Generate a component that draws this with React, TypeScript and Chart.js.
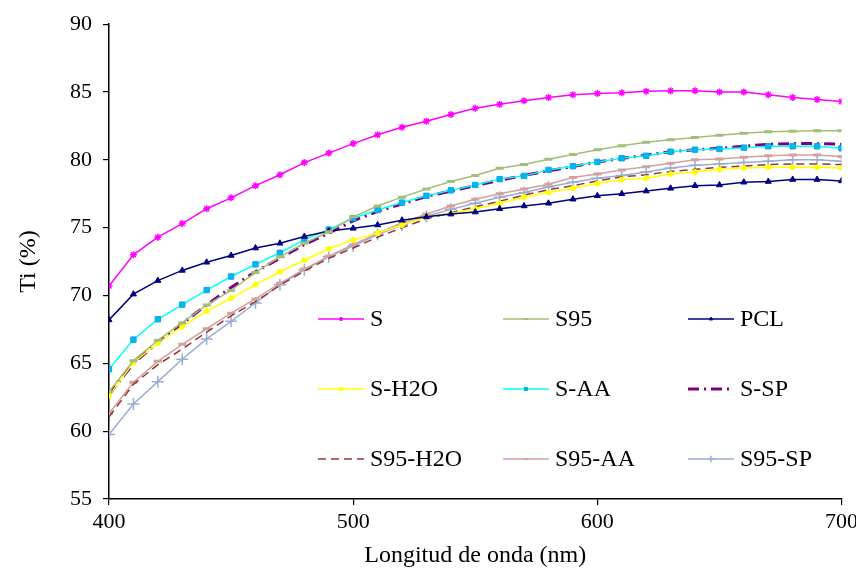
import React, { useEffect, useRef } from 'react';
import { Chart, registerables } from 'chart.js';
import { drawPoint } from 'chart.js/helpers';

Chart.register(...registerables);

const wavelengths = [400, 410, 420, 430, 440, 450, 460, 470, 480, 490, 500, 510, 520, 530, 540, 550, 560, 570, 580, 590, 600, 610, 620, 630, 640, 650, 660, 670, 680, 690, 700];

const sValues = [70.7, 73.0, 74.3, 75.3, 76.4, 77.2, 78.1, 78.9, 79.8, 80.5, 81.2, 81.85, 82.4, 82.85, 83.35, 83.8, 84.1, 84.35, 84.6, 84.8, 84.9, 84.95, 85.05, 85.1, 85.1, 85.0, 85.0, 84.8, 84.6, 84.45, 84.3];
const s95Values = [62.9, 65.2, 66.7, 68.0, 69.3, 70.37, 71.7, 72.85, 73.85, 74.7, 75.8, 76.6, 77.25, 77.85, 78.4, 78.85, 79.38, 79.65, 80.05, 80.4, 80.75, 81.04, 81.3, 81.48, 81.65, 81.82, 81.97, 82.07, 82.1, 82.14, 82.14];
const pclValues = [68.2, 70.1, 71.1, 71.85, 72.45, 72.95, 73.5, 73.85, 74.35, 74.75, 74.95, 75.2, 75.55, 75.8, 76.0, 76.15, 76.4, 76.6, 76.8, 77.1, 77.35, 77.5, 77.7, 77.9, 78.1, 78.15, 78.35, 78.4, 78.55, 78.55, 78.45];
const sH2oValues = [62.6, 65.05, 66.5, 67.7, 68.85, 69.8, 70.8, 71.75, 72.6, 73.45, 74.1, 74.6, 75.2, 75.8, 76.05, 76.4, 76.8, 77.25, 77.6, 77.9, 78.25, 78.55, 78.65, 78.95, 79.1, 79.3, 79.4, 79.45, 79.45, 79.45, 79.4];
const sAaValues = [64.57, 66.75, 68.25, 69.33, 70.4, 71.4, 72.3, 73.15, 74.1, 74.86, 75.7, 76.3, 76.85, 77.35, 77.75, 78.15, 78.58, 78.82, 79.26, 79.53, 79.85, 80.12, 80.3, 80.6, 80.75, 80.8, 80.9, 81.0, 81.0, 81.0, 80.85];
const sSpValues = [62.7, 65.0, 66.55, 67.95, 69.3, 70.6, 71.75, 72.75, 73.75, 74.6, 75.5, 76.2, 76.75, 77.3, 77.7, 78.1, 78.5, 78.85, 79.2, 79.5, 79.85, 80.1, 80.35, 80.6, 80.75, 80.85, 81.0, 81.15, 81.2, 81.2, 81.15];
const s95H2oValues = [61.05, 63.45, 64.9, 66.05, 67.3, 68.5, 69.55, 70.75, 71.8, 72.75, 73.5, 74.3, 75.0, 75.65, 76.1, 76.55, 76.95, 77.4, 77.8, 78.1, 78.45, 78.75, 78.9, 79.15, 79.3, 79.45, 79.55, 79.65, 79.7, 79.7, 79.65];
const s95AaValues = [61.3, 63.6, 65.15, 66.4, 67.55, 68.7, 69.75, 70.9, 71.95, 72.9, 73.75, 74.6, 75.35, 76.0, 76.6, 77.1, 77.5, 77.85, 78.2, 78.7, 78.95, 79.25, 79.5, 79.75, 80.0, 80.07, 80.2, 80.3, 80.35, 80.35, 80.25];
const s95SpValues = [59.75, 62.0, 63.65, 65.3, 66.8, 68.1, 69.45, 70.8, 71.9, 72.85, 73.65, 74.5, 75.2, 75.85, 76.35, 76.8, 77.25, 77.6, 78.0, 78.35, 78.65, 78.85, 79.1, 79.4, 79.6, 79.7, 79.8, 79.9, 80.0, 80.0, 79.9];

const seriesLabels = ['S', 'S95', 'PCL', 'S-H2O', 'S-AA', 'S-SP', 'S95-H2O', 'S95-AA', 'S95-SP'];

const yTicks = [55, 60, 65, 70, 75, 80, 85, 90];
const xTicks = [400, 500, 600, 700];

const FONT = "'Liberation Serif', 'Times New Roman', serif";

const toPoints = (vals: number[]) => vals.map((v, i) => ({ x: wavelengths[i], y: v }));

const legendPlugin = {
  id: 'gridLegend',
  afterDraw(chart: any) {
    const ctx = chart.ctx;
    const ds = chart.data.datasets;
    const colX = [318, 503, 688];
    const rowY = [319, 389, 459];
    const lineLen = 46;
    ctx.save();
    ds.forEach((d: any, i: number) => {
      const c = i % 3;
      const r = Math.floor(i / 3);
      const x0 = colX[c];
      const y0 = rowY[r];
      ctx.save();
      ctx.strokeStyle = d.borderColor;
      ctx.lineWidth = d.borderWidth;
      ctx.setLineDash(d.borderDash || []);
      ctx.beginPath();
      ctx.moveTo(x0, y0);
      ctx.lineTo(x0 + lineLen, y0);
      ctx.stroke();
      ctx.setLineDash([]);
      if (d.pointStyle && d.pointRadius > 0) {
        ctx.fillStyle = d.pointBackgroundColor;
        ctx.strokeStyle = d.pointBorderColor;
        ctx.lineWidth = Math.min(d.pointBorderWidth, 2);
        const rad = Math.max(1.8, d.pointRadius * 0.55);
        drawPoint(ctx, { pointStyle: d.pointStyle, radius: rad, borderWidth: ctx.lineWidth, rotation: 0 } as any, x0 + lineLen / 2, y0);
      }
      ctx.restore();
      ctx.fillStyle = '#000';
      ctx.font = `24px ${FONT}`;
      ctx.textBaseline = 'middle';
      ctx.textAlign = 'left';
      ctx.fillText(d.label, x0 + lineLen + 6, y0 + 1);
    });
    ctx.restore();
  },
};

export default function App() {
  const ref = useRef<HTMLCanvasElement | null>(null);

  useEffect(() => {
    if (!ref.current) return;
    const mk = (idx: number, vals: number[], color: string, opts: any) => ({
      label: seriesLabels[idx],
      data: toPoints(vals),
      borderColor: color,
      backgroundColor: color,
      borderWidth: 1.5,
      pointRadius: 3,
      pointBackgroundColor: color,
      pointBorderColor: color,
      pointBorderWidth: 1,
      tension: 0,
      fill: false,
      ...opts,
    });

    const datasets = [
      mk(0, sValues, '#FF00FF', { pointStyle: 'star', pointRadius: 3.5, pointBorderWidth: 1.5 }),
      mk(1, s95Values, '#A3BE78', { pointStyle: 'line', pointRadius: 4, pointBorderWidth: 3 }),
      mk(2, pclValues, '#000080', { pointStyle: 'triangle', pointRadius: 3.5 }),
      mk(3, sH2oValues, '#FFFF00', { pointStyle: 'circle', pointRadius: 2.5 }),
      mk(4, sAaValues, '#00FFFF', { pointStyle: 'rect', pointRadius: 3.8, pointBackgroundColor: '#00B8F0', pointBorderColor: '#00A8E8' }),
      mk(5, sSpValues, '#7F007F', { borderWidth: 3, borderDash: [11, 5, 2, 5], pointRadius: 0, pointStyle: false }),
      mk(6, s95H2oValues, '#963634', { borderDash: [8, 5], pointRadius: 0, pointStyle: false }),
      mk(7, s95AaValues, '#D4A09E', { pointStyle: 'line', pointRadius: 4, pointBorderWidth: 3 }),
      mk(8, s95SpValues, '#98AED0', { pointStyle: 'cross', pointRadius: 6, pointBorderWidth: 1.5 }),
    ];

    const chart = new Chart(ref.current, {
      type: 'line',
      data: { datasets },
      options: {
        animation: false,
        responsive: true,
        maintainAspectRatio: false,
        layout: { padding: { left: 0, right: 17, top: 19, bottom: 0 } },
        plugins: {
          legend: { display: false },
          tooltip: { enabled: false },
        },
        scales: {
          x: {
            type: 'linear',
            min: 400,
            max: 700,
            afterFit: (s: any) => { s.height = 71; },
            afterBuildTicks: (s: any) => { s.ticks = xTicks.map((v) => ({ value: v })); },
            ticks: { color: '#000', font: { family: FONT, size: 22 }, padding: 4, maxRotation: 0 },
            grid: { display: true, drawOnChartArea: false, drawTicks: true, tickLength: 6, color: '#000', lineWidth: 1.2 },
            border: { display: true, color: '#000', width: 1.5 },
            title: { display: true, text: 'Longitud de onda (nm)', color: '#000', font: { family: FONT, size: 24 }, padding: { top: 0, bottom: 0 } },
          },
          y: {
            type: 'linear',
            min: 55,
            max: 90,
            afterFit: (s: any) => { s.width = 109; },
            afterBuildTicks: (s: any) => { s.ticks = yTicks.map((v) => ({ value: v })); },
            ticks: { color: '#000', font: { family: FONT, size: 22 }, padding: 11 },
            grid: { display: true, drawOnChartArea: false, drawTicks: true, tickLength: 6, color: '#000', lineWidth: 1.2 },
            border: { display: true, color: '#000', width: 1.5 },
            title: { display: true, text: 'Ti (%)', color: '#000', font: { family: FONT, size: 24 }, padding: { top: 14, bottom: 0 } },
          },
        },
      },
      plugins: [legendPlugin],
    } as any);

    return () => chart.destroy();
  }, []);

  return (
    <div style={{ position: 'fixed', left: 0, top: 0, width: 862, height: 570, background: '#fff' }}>
      <canvas ref={ref} />
    </div>
  );
}
